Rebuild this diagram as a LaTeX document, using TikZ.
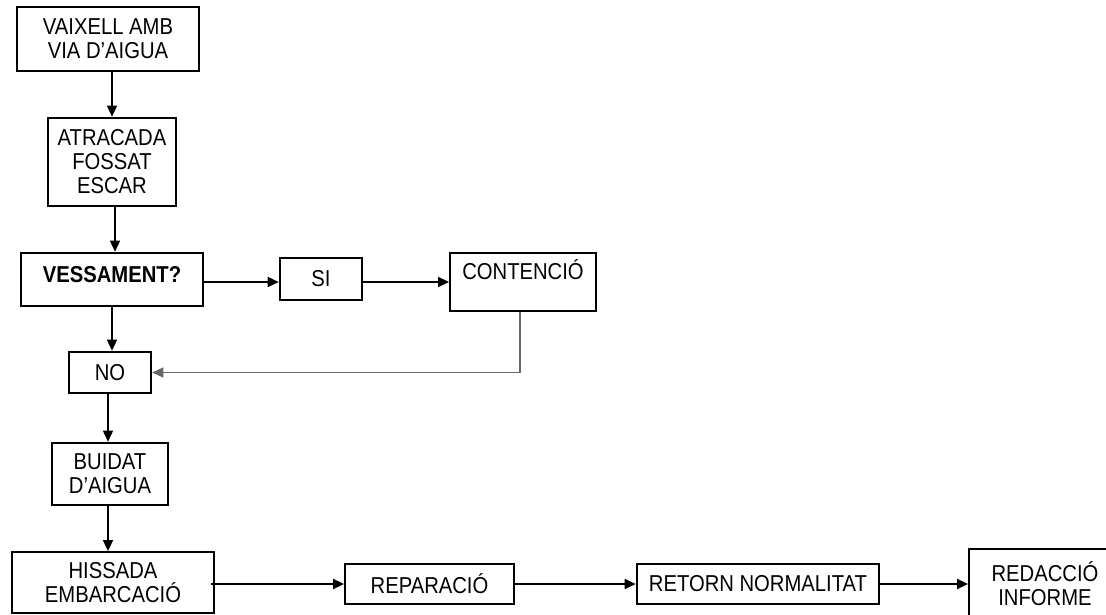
\documentclass[tikz,border=0pt]{standalone}
\usepackage{fontspec}
\setmainfont{Liberation Sans}[FakeStretch=0.88]
\usetikzlibrary{arrows.meta}
\begin{document}
\begin{tikzpicture}[x=1pt,y=-1pt,
  box/.style={draw=black, line width=2.6pt, rectangle, inner sep=0pt, align=center,
    font=\fontsize{23}{24}\selectfont},
  thinbox/.style={box, line width=1.8pt},
  arr/.style={draw=black, line width=1.6pt, -{Triangle[length=11pt,width=10pt]}},
  back/.style={draw=black!60, line width=1.4pt, -{Triangle[length=11pt,width=10pt]}}]
\useasboundingbox (0,0) rectangle (1106,615);
\clip (0,0) rectangle (1106,615);
\fill[white] (0,0) rectangle (1106,615);

\node[box, minimum width=182pt, minimum height=64pt] (n1) at (108,39) {VAIXELL AMB\\VIA D'AIGUA};
\node[box, minimum width=128pt, minimum height=88pt] (n2) at (112,162) {ATRACADA\\FOSSAT\\ESCAR};
\node[box, minimum width=182pt, text height=29pt, text depth=24pt, font=\fontsize{23}{24}\selectfont\bfseries] (n3) at (112,279.5) {VESSAMENT?};
\node[box, minimum width=82pt, minimum height=42pt] (si) at (321,279) {SI};
\node[thinbox, minimum width=146pt, text height=26pt, text depth=32pt] (cont) at (523,282) {CONTENCIÓ};
\node[box, minimum width=82pt, minimum height=41pt] (no) at (110,372.5) {NO};
\node[box, minimum width=116pt, minimum height=62pt] (buid) at (110,474) {BUIDAT\\D'AIGUA};
\node[thinbox, minimum width=202pt, minimum height=61pt] (hiss) at (113,582.5) {HISSADA\\EMBARCACIÓ};
\node[thinbox, minimum width=169pt, minimum height=40pt] (rep) at (429.5,584) {REPARACIÓ};
\node[box, minimum width=242pt, minimum height=40pt] (ret) at (758,584) {RETORN NORMALITAT};
\node[thinbox, minimum width=152pt, minimum height=70pt] (red) at (1045,584) {REDACCIÓ\\INFORME};

\draw[arr] (n2.north |- n1.south) -- (n2.north);
\draw[arr] ([xshift=3pt]n2.south) -- ([xshift=3pt]n2.south |- n3.north);
\draw[arr] (n3.south) -- (n3.south |- no.north);
\draw[arr] ([yshift=-3pt]si.west -| n3.east) -- ([yshift=-3pt]si.west);
\draw[arr] ([yshift=-3pt]si.east) -- ([yshift=-3pt]si.east -| cont.west);
\draw[back] ([xshift=-3pt]cont.south) |- (no.east);
\draw[arr] ([xshift=-2pt]no.south) -- ([xshift=-2pt]no.south |- buid.north);
\draw[arr] ([xshift=-2pt]buid.south) -- ([xshift=-2pt]buid.south |- hiss.north);
\draw[arr] ([xshift=-4pt]hiss.east |- rep.west) -- (rep.west);
\draw[arr] (rep.east) -- (ret.west);
\draw[arr] (ret.east) -- (ret.east -| red.west);
\end{tikzpicture}
\end{document}
